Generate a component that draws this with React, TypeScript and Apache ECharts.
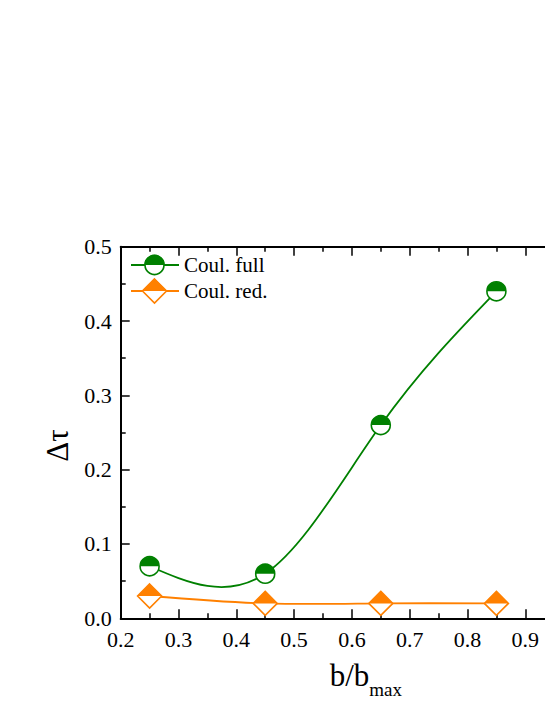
import React, { useEffect, useRef } from "react";
import * as echarts from "echarts";

// ---- data ----
const bRatio = [0.25, 0.45, 0.65, 0.85];
const coulFull = [0.07, 0.06, 0.26, 0.44];
const coulRed = [0.03, 0.02, 0.02, 0.02];
const seriesNames = ["Coul. full", "Coul. red."];
const xRange = [0.2, 1.0];
const yRange = [0, 0.5];

const GREEN = "#008000";
const ORANGE = "#ff8000";
const SERIF = "Liberation Serif";

// natural cubic spline -> second derivatives
function splineM(xs: number[], ys: number[]) {
  const n = xs.length;
  const h: number[] = [];
  for (let i = 0; i < n - 1; i++) h.push(xs[i + 1] - xs[i]);
  const M = new Array(n).fill(0);
  if (n > 2) {
    const m = n - 2;
    const a: number[] = [], b: number[] = [], c: number[] = [], d: number[] = [];
    for (let i = 1; i <= n - 2; i++) {
      a.push(h[i - 1]);
      b.push(2 * (h[i - 1] + h[i]));
      c.push(h[i]);
      d.push(6 * ((ys[i + 1] - ys[i]) / h[i] - (ys[i] - ys[i - 1]) / h[i - 1]));
    }
    for (let i = 1; i < m; i++) {
      const w = a[i] / b[i - 1];
      b[i] -= w * c[i - 1];
      d[i] -= w * d[i - 1];
    }
    const sol = new Array(m);
    sol[m - 1] = d[m - 1] / b[m - 1];
    for (let i = m - 2; i >= 0; i--) sol[i] = (d[i] - c[i] * sol[i + 1]) / b[i];
    for (let i = 0; i < m; i++) M[i + 1] = sol[i];
  }
  return { h, M };
}

function splineSeries(xs: number[], ys: number[], color: string, name: string) {
  const { h, M } = splineM(xs, ys);
  return {
    type: "custom",
    name,
    xAxisIndex: 0,
    yAxisIndex: 0,
    z: 1,
    data: xs.map((x, i) => [x, ys[i]]),
    renderItem: (params: any, api: any) => {
      const i = params.dataIndex;
      if (i >= xs.length - 1) return { type: "group", children: [] };
      const hh = h[i];
      const sl = (ys[i + 1] - ys[i]) / hh;
      const s0 = sl - (hh * (2 * M[i] + M[i + 1])) / 6;
      const s1 = sl + (hh * (M[i] + 2 * M[i + 1])) / 6;
      const p0 = api.coord([xs[i], ys[i]]);
      const p1 = api.coord([xs[i + 1], ys[i + 1]]);
      const c0 = api.coord([xs[i] + hh / 3, ys[i] + (s0 * hh) / 3]);
      const c1 = api.coord([xs[i + 1] - hh / 3, ys[i + 1] - (s1 * hh) / 3]);
      return {
        type: "bezierCurve",
        shape: {
          x1: p0[0], y1: p0[1], x2: p1[0], y2: p1[1],
          cpx1: c0[0], cpy1: c0[1], cpx2: c1[0], cpy2: c1[1],
        },
        style: { stroke: color, lineWidth: 1.8, fill: null },
      };
    },
  };
}

function markerSeries(xs: number[], ys: number[], color: string, kind: "circle" | "diamond") {
  const size = kind === "circle" ? 19 : 24;
  const base = {
    type: "scatter",
    xAxisIndex: 0,
    yAxisIndex: 0,
    data: xs.map((x, i) => [x, ys[i]]),
    silent: true,
  };
  const fullSym = kind === "circle" ? "circle" : "diamond";
  const halfSym =
    kind === "circle"
      ? "path://M0,10 A10,10 0 0 1 20,10 Z"
      : "path://M0,10 L10,0 L20,10 Z";
  return [
    {
      ...base,
      z: 3,
      symbol: fullSym,
      symbolSize: size,
      itemStyle: { color: "#fff", borderColor: color, borderWidth: 1.6, opacity: 1 },
    },
    {
      ...base,
      z: 4,
      symbol: halfSym,
      symbolSize: [size, size / 2],
      symbolOffset: [0, -size / 4],
      itemStyle: { color, opacity: 1 },
    },
  ];
}

const tickCommon = {
  axisLine: { show: true, onZero: false, lineStyle: { color: "#000", width: 2 } },
  axisTick: { show: true, inside: true, length: 9, lineStyle: { color: "#000", width: 1.5 } },
  minorTick: { show: true, splitNumber: 2, length: 5, lineStyle: { color: "#000", width: 1.5 } },
  splitLine: { show: false },
  minorSplitLine: { show: false },
};

export default function App() {
  const ref = useRef<HTMLDivElement>(null);
  useEffect(() => {
    if (!ref.current) return;
    const chart = echarts.init(ref.current, null, { renderer: "svg" });
    const lx = 131, rx = 179, cx = 154.5, r1 = 265, r2 = 291;
    chart.setOption({
      animation: false,
      backgroundColor: "#fff",
      textStyle: { fontFamily: SERIF },
      grid: { left: 120.7, top: 246.7, width: 462.4, height: 371.6 },
      xAxis: [
        {
          type: "value",
          position: "bottom",
          min: xRange[0],
          max: xRange[1],
          interval: 0.1,
          ...tickCommon,
          axisLabel: {
            color: "#000",
            fontFamily: SERIF,
            fontSize: 22,
            margin: 10,
            showMaxLabel: false,
            formatter: (v: number) => v.toFixed(1),
          },
          name: "{a|b/b}{s|max}",
          nameLocation: "middle",
          nameGap: 42,
          nameTextStyle: {
            fontFamily: SERIF,
            padding: [0, 0, 0, 28],
            rich: {
              a: { fontFamily: SERIF, fontSize: 31, color: "#000", lineHeight: 31, verticalAlign: "top" },
              s: { fontFamily: SERIF, fontSize: 19, color: "#000", lineHeight: 19, padding: [20, 0, 0, 0], verticalAlign: "top" },
            },
          },
        },
        {
          type: "value",
          position: "top",
          min: xRange[0],
          max: xRange[1],
          interval: 0.1,
          ...tickCommon,
          axisLabel: { show: false },
        },
      ],
      yAxis: [
        {
          type: "value",
          position: "left",
          min: yRange[0],
          max: yRange[1],
          interval: 0.1,
          ...tickCommon,
          axisLabel: {
            color: "#000",
            fontFamily: SERIF,
            fontSize: 22,
            margin: 9,
            formatter: (v: number) => v.toFixed(1),
          },
          name: "Δτ",
          nameLocation: "middle",
          nameGap: 48,
          nameTextStyle: { fontFamily: SERIF, fontSize: 31, color: "#000", padding: [0, 26, 0, 0] },
        },
        {
          type: "value",
          position: "right",
          min: yRange[0],
          max: yRange[1],
          interval: 0.1,
          ...tickCommon,
          axisLabel: { show: false },
        },
      ],
      series: [
        splineSeries(bRatio, coulRed, ORANGE, seriesNames[1]),
        splineSeries(bRatio, coulFull, GREEN, seriesNames[0]),
        ...markerSeries(bRatio, coulRed, ORANGE, "diamond"),
        ...markerSeries(bRatio, coulFull, GREEN, "circle"),
      ],
      graphic: [
        { type: "line", shape: { x1: lx, y1: r1, x2: rx, y2: r1 }, style: { stroke: GREEN, lineWidth: 1.8 }, z: 10 },
        { type: "circle", shape: { cx, cy: r1, r: 9.5 }, style: { fill: "#fff", stroke: GREEN, lineWidth: 1.6 }, z: 11 },
        { type: "sector", shape: { cx, cy: r1, r: 10.3, r0: 0, startAngle: Math.PI, endAngle: 2 * Math.PI }, style: { fill: GREEN }, z: 12 },
        { type: "text", x: 184, y: r1, style: { text: seriesNames[0], fontFamily: SERIF, fontSize: 21, fill: "#000", verticalAlign: "middle", align: "left" }, z: 12 },
        { type: "line", shape: { x1: lx, y1: r2, x2: rx, y2: r2 }, style: { stroke: ORANGE, lineWidth: 1.8 }, z: 10 },
        { type: "polygon", shape: { points: [[cx, r2 - 12], [cx + 12, r2], [cx, r2 + 12], [cx - 12, r2]] }, style: { fill: "#fff", stroke: ORANGE, lineWidth: 1.6 }, z: 11 },
        { type: "polygon", shape: { points: [[cx - 12.8, r2], [cx, r2 - 12.8], [cx + 12.8, r2]] }, style: { fill: ORANGE }, z: 12 },
        { type: "text", x: 184, y: r2, style: { text: seriesNames[1], fontFamily: SERIF, fontSize: 21, fill: "#000", verticalAlign: "middle", align: "left" }, z: 12 },
      ],
    });
    return () => chart.dispose();
  }, []);
  return (
    <div style={{ position: "fixed", left: 0, top: 0, width: 545, height: 705, overflow: "hidden", background: "#fff" }}>
      <div ref={ref} style={{ width: 620, height: 705 }} />
    </div>
  );
}
